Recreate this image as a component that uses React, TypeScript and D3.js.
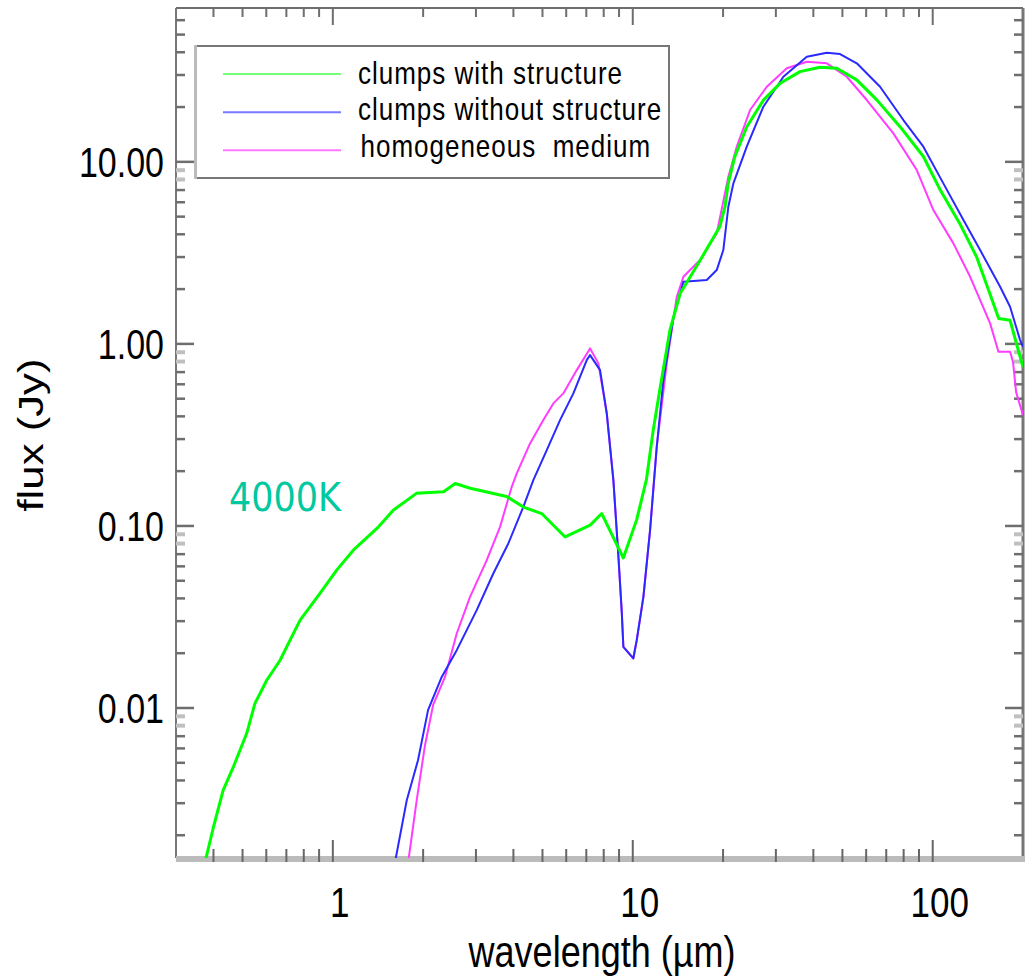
import React from 'react';
import * as d3 from 'd3';

// ---- data (wavelength in µm, flux in Jy) ----
const greenWave = [0.37, 0.40, 0.431, 0.466, 0.516, 0.55, 0.602, 0.667, 0.72, 0.778, 0.906, 1.03, 1.17, 1.42, 1.59, 1.90, 2.34, 2.56, 2.87, 3.80, 4.32, 4.97, 5.95, 7.21, 7.88, 9.30, 10.3, 11.1, 11.7, 12.3, 13.3, 14.4, 16.8, 19.5, 20.3, 20.8, 21.9, 24.0, 27.3, 31.0, 36.1, 42.1, 47.9, 55.8, 65.1, 77.8, 93.1, 106, 123, 140, 155, 166, 181, 200];
const greenFlux = [0.0013, 0.00222, 0.00354, 0.00475, 0.00724, 0.0106, 0.0142, 0.0183, 0.0236, 0.0304, 0.0426, 0.0572, 0.0736, 0.0989, 0.122, 0.151, 0.154, 0.171, 0.161, 0.145, 0.127, 0.117, 0.087, 0.101, 0.117, 0.0667, 0.108, 0.179, 0.336, 0.557, 1.19, 1.90, 2.89, 4.40, 5.67, 7.62, 10.7, 15.6, 21.9, 27.0, 31.3, 33.1, 32.7, 28.2, 21.9, 15.6, 10.7, 7.0, 4.59, 3.01, 1.89, 1.38, 1.35, 0.746];

const blueWave = [1.593, 1.764, 1.923, 2.077, 2.307, 2.589, 3.018, 3.428, 3.847, 4.317, 4.661, 5.167, 5.721, 6.338, 7.024, 7.205, 7.78, 8.19, 8.617, 8.952, 9.19, 9.303, 10.04, 10.31, 10.85, 11.42, 12.02, 12.65, 13.65, 14.75, 17.65, 19.05, 20.04, 20.83, 21.65, 23.99, 27.25, 31.78, 38.03, 44.36, 49.11, 55.84, 66.76, 79.83, 93.08, 108.5, 126.6, 143.9, 167.8, 181.1, 195.6, 200];
const blueFlux = [0.001285, 0.003115, 0.005166, 0.00973, 0.01482, 0.02078, 0.03447, 0.05483, 0.08014, 0.1274, 0.1785, 0.2609, 0.3815, 0.5347, 0.8147, 0.868, 0.7178, 0.4151, 0.1785, 0.06887, 0.03361, 0.02167, 0.01871, 0.02359, 0.04078, 0.09484, 0.2721, 0.6328, 1.386, 2.194, 2.242, 2.544, 3.277, 5.667, 7.618, 12.11, 20.08, 29.35, 37.8, 39.77, 39.12, 34.77, 25.86, 16.97, 12.11, 7.618, 4.79, 3.277, 2.06, 1.599, 1.049, 0.964];

const magentaWave = [1.768, 1.904, 2.029, 2.159, 2.366, 2.589, 2.867, 3.26, 3.61, 3.949, 4.104, 4.545, 5.033, 5.435, 5.867, 6.504, 7.205, 7.679, 8.19, 8.617, 8.952, 9.19, 9.303, 10.04, 10.31, 10.85, 11.42, 12.02, 12.98, 14.02, 14.75, 16.76, 19.05, 20.83, 22.22, 24.61, 27.98, 32.62, 38.03, 44.36, 51.69, 60.29, 73.93, 88.48, 100.5, 117.2, 133.3, 155.4, 165.6, 181.1, 185.3, 189.7, 200];
const magentaFlux = [0.001285, 0.003115, 0.006247, 0.01036, 0.01482, 0.02567, 0.04078, 0.0649, 0.09888, 0.164, 0.1943, 0.284, 0.3815, 0.4711, 0.5347, 0.7178, 0.9447, 0.7816, 0.4151, 0.1785, 0.06887, 0.03361, 0.02167, 0.01871, 0.02359, 0.04078, 0.09484, 0.2721, 0.7816, 1.815, 2.337, 2.887, 4.047, 8.284, 12.11, 19.26, 25.86, 32.65, 35.48, 34.77, 29.35, 21.86, 14.34, 9.016, 5.435, 3.566, 2.337, 1.296, 0.9049, 0.9049, 0.794, 0.5435, 0.4063];

const seriesNames = ['clumps with structure', 'clumps without structure', 'homogeneous  medium'];
const xTickValues = [1, 10, 100];
const xTickLabels = ['1', '10', '100'];
const yTickValues = [0.01, 0.1, 1, 10];
const yTickLabels = ['0.01', '0.10', '1.00', '10.00'];
const xDomain = [0.3, 200];
const yDomain = [0.0015, 70];

// ---- layout ----
const W = 1031, H = 977;
const L = 176, R = 1023, T = 8, B = 858;
const SY = 1.23; // vertical stretch of the original figure's text
const FONT = "'Liberation Sans', Arial, Helvetica, sans-serif";

export default function App() {
  const x = d3.scaleLog().domain(xDomain).range([L, R]);
  const y = d3.scaleLog().domain(yDomain).range([B, T]);
  const line = d3.line<[number, number]>().x(d => x(d[0])).y(d => y(d[1]));
  const zip = (a: number[], b: number[]) => a.map((v, i) => [v, b[i]] as [number, number]);

  const series = [
    { name: seriesNames[2], pts: zip(magentaWave, magentaFlux), color: '#ff3cff', w: 2, legend: '#ff78ff' },
    { name: seriesNames[1], pts: zip(blueWave, blueFlux), color: '#2a2aff', w: 2, legend: '#7878ff' },
    { name: seriesNames[0], pts: zip(greenWave, greenFlux), color: '#00ff00', w: 3, legend: '#78ff78' },
  ];

  // minor ticks
  const xMinor: number[] = [];
  for (const dec of [0.1, 1, 10, 100]) for (let m = 2; m <= 9; m++) {
    const v = dec * m; if (v > xDomain[0] * 1.01 && v < xDomain[1] * 0.99 && !xTickValues.includes(v)) xMinor.push(v);
  }
  const yMinor: { v: number; light: boolean }[] = [];
  for (const dec of [0.001, 0.01, 0.1, 1, 10]) for (let m = 2; m <= 9; m++) {
    const v = dec * m; if (v > yDomain[0] && v < yDomain[1]) yMinor.push({ v, light: m >= 8 });
  }

  const tickColor = '#6e6e6e';
  const legendItems = [series[2], series[1], series[0]];

  return (
    <svg width={W} height={H} style={{ position: 'absolute', left: 0, top: 0, background: '#fff' }} fontFamily={FONT}>
      <rect x={0} y={0} width={W} height={H} fill="#fff" />
      <defs>
        <clipPath id="plotclip"><rect x={L} y={T} width={R - L} height={B - T} /></clipPath>
      </defs>

      {/* frame */}
      <line x1={L} y1={T} x2={R} y2={T} stroke={tickColor} strokeWidth={2} />
      <line x1={L} y1={T} x2={L} y2={B} stroke="#777" strokeWidth={2} />
      <line x1={R} y1={T} x2={R} y2={B} stroke="#777" strokeWidth={3} />
      <rect x={L} y={B - 2} width={R - L + 2} height={6} fill="#bbb" />

      {/* x ticks bottom & top */}
      {xMinor.map(v => (
        <g key={'xm' + v}>
          <line x1={x(v)} x2={x(v)} y1={B + 4} y2={B - 9} stroke="#666" strokeWidth={2} />
          <line x1={x(v)} x2={x(v)} y1={T} y2={T + 9} stroke={tickColor} strokeWidth={2} />
        </g>
      ))}
      {xTickValues.map((v, i) => (
        <g key={'xM' + v}>
          <line x1={x(v)} x2={x(v)} y1={B + 4} y2={B - 18} stroke="#666" strokeWidth={2} />
          <line x1={x(v)} x2={x(v)} y1={T} y2={T + 17} stroke={tickColor} strokeWidth={2} />
          <text transform={`translate(${x(v) + 7},917) scale(1,${SY})`} textAnchor="middle" fontSize={35} fill="#000">{xTickLabels[i]}</text>
        </g>
      ))}

      {/* y ticks left & right */}
      {yMinor.map(({ v, light }) => (
        <g key={'ym' + v}>
          <line x1={L} x2={L + 9} y1={y(v)} y2={y(v)} stroke={light ? '#c0c0c0' : tickColor} strokeWidth={light ? 4 : 2.5} />
          <line x1={R} x2={R - 9} y1={y(v)} y2={y(v)} stroke={light ? '#c0c0c0' : tickColor} strokeWidth={light ? 4 : 2.5} />
        </g>
      ))}
      {yTickValues.map((v, i) => (
        <g key={'yM' + v}>
          <line x1={L} x2={L + 18} y1={y(v)} y2={y(v)} stroke={tickColor} strokeWidth={2.5} />
          <line x1={R} x2={R - 18} y1={y(v)} y2={y(v)} stroke={tickColor} strokeWidth={2.5} />
          <text transform={`translate(164,${y(v) + 15}) scale(1,${SY})`} textAnchor="end" fontSize={34} fill="#000">{yTickLabels[i]}</text>
        </g>
      ))}

      {/* curves */}
      <g clipPath="url(#plotclip)">
        {series.map(s => (
          <path key={s.name} d={line(s.pts) || ''} fill="none" stroke={s.color} strokeWidth={s.w} strokeLinejoin="round" />
        ))}
      </g>

      {/* axis titles */}
      <text transform={`translate(602,967) scale(1,${SY})`} textAnchor="middle" fontSize={36} fill="#000">wavelength (µm)</text>
      <text transform={`translate(43,435) rotate(-90) scale(1.25,1)`} textAnchor="middle" fontSize={35} fill="#000">flux (Jy)</text>

      {/* annotation */}
      <text transform={`translate(229,510.5) scale(1,1.13)`} fontFamily="'DejaVu Sans', Verdana, sans-serif" fontSize={35} fill="#00c8a0">4000K</text>

      {/* legend */}
      <rect x={196} y={46} width={473} height={132} fill="#fff" stroke="#777" strokeWidth={2} />
      <line x1={195.5} y1={45} x2={195.5} y2={179} stroke="#bbb" strokeWidth={3} />
      {legendItems.map((s, i) => {
        const ly = [74, 112.3, 150.3][i];
        const by = [83.5, 120, 157.3][i];
        return (
          <g key={'lg' + i}>
            <line x1={223} x2={341} y1={ly} y2={ly} stroke={s.legend} strokeWidth={2} />
            <text transform={`translate(${i === 2 ? 360.5 : 358},${by}) scale(1,${SY})`} fontSize={26} letterSpacing={1} fill="#000" style={{ whiteSpace: 'pre' }}>{s.name}</text>
          </g>
        );
      })}
    </svg>
  );
}
